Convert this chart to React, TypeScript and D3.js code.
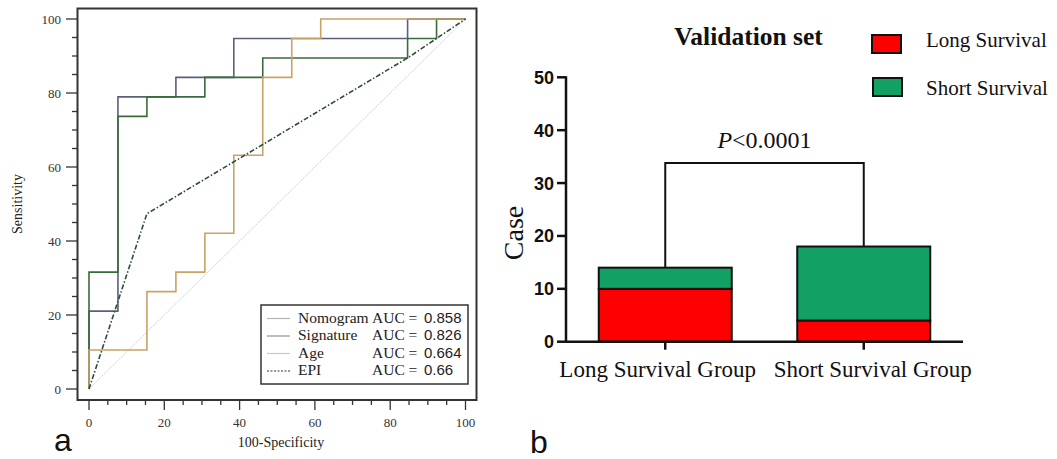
import React from "react";
import * as d3 from "d3";

// ---------- Panel a: ROC data (100-Specificity, Sensitivity) ----------
const rocNomogram: [number, number][] = [
  [0, 0], [0, 21.05], [7.69, 21.05], [7.69, 78.95], [23.08, 78.95], [23.08, 84.21],
  [38.46, 84.21], [38.46, 94.74], [84.62, 94.74], [84.62, 100], [100, 100],
];
const rocSignature: [number, number][] = [
  [0, 0], [0, 31.58], [7.69, 31.58], [7.69, 73.68], [15.38, 73.68], [15.38, 78.95],
  [30.77, 78.95], [30.77, 84.21], [46.15, 84.21], [46.15, 89.47], [84.62, 89.47],
  [84.62, 94.74], [92.31, 94.74], [92.31, 100], [100, 100],
];
const rocAge: [number, number][] = [
  [0, 0], [0, 10.53], [15.38, 10.53], [15.38, 26.32], [23.08, 26.32], [23.08, 31.58],
  [30.77, 31.58], [30.77, 42.11], [38.46, 42.11], [38.46, 63.16], [46.15, 63.16],
  [46.15, 84.21], [53.85, 84.21], [53.85, 94.74], [61.54, 94.74], [61.54, 100], [100, 100],
];
const rocEPI: [number, number][] = [
  [0, 0], [15.38, 47.37], [84.62, 89.47], [92.31, 94.74], [100, 100],
];
const rocDiagonal: [number, number][] = [[0, 0], [100, 100]];
const rocTicks = [0, 20, 40, 60, 80, 100];
const rocMinorTicks = d3.range(0, 101, 5);
const legendNames = ["Nomogram", "Signature", "Age", "EPI"];
const legendAUC = ["0.858", "0.826", "0.664", "0.66"];

// ---------- Panel b: stacked bars ----------
const groups = ["Long Survival Group", "Short Survival Group"];
const longSurvival = [10, 4];
const shortSurvival = [4, 14];
const caseTicks = [0, 10, 20, 30, 40, 50];
const bracketLevel = 33.8;
const pText = "<0.0001";

const SERIF = "'Liberation Serif', 'Times New Roman', serif";
const SANS = "'Liberation Sans', Arial, sans-serif";

export default function App() {
  // panel a scales
  const x = d3.scaleLinear().domain([0, 100]).range([89, 465.5]);
  const y = d3.scaleLinear().domain([0, 100]).range([389, 19]);
  const line = d3.line<[number, number]>().x((d) => x(d[0])).y((d) => y(d[1]));

  const curves = [
    { data: rocNomogram, color: "#5c5f7c", dash: undefined, w: 1.6 },
    { data: rocSignature, color: "#3b6b3b", dash: undefined, w: 1.6 },
    { data: rocAge, color: "#c9a266", dash: undefined, w: 1.6 },
    { data: rocEPI, color: "#2f4d36", dash: "5,2,1.5,2", w: 1.6 },
  ];
  const legendSample = [
    { color: "#b4b4b4", dash: undefined },
    { color: "#8c968c", dash: undefined },
    { color: "#d9c9a3", dash: undefined },
    { color: "#333", dash: "2,1.5" },
  ];

  // panel b scales
  const xb = d3.scaleBand<string>().domain(groups).range([566, 963]).paddingInner(0.33).paddingOuter(0.165);
  const yb = d3.scaleLinear().domain([0, 50]).range([341.7, 77.3]);
  const stackData = groups.map((g, i) => ({ group: g, long: longSurvival[i], short: shortSurvival[i] }));
  const stack = d3.stack<any>().keys(["long", "short"])(stackData);
  const fills: Record<string, string> = { long: "#ff0000", short: "#13a065" };
  const totals = groups.map((_, i) => longSurvival[i] + shortSurvival[i]);
  const cx = (g: string) => (xb(g) as number) + xb.bandwidth() / 2;
  const labelShift = [-7.5, 9];

  return (
    <svg width={1057} height={459} style={{ position: "absolute", left: 0, top: 0, background: "#fff" }}>
      <rect x={0} y={0} width={1057} height={459} fill="#fff" />
      {/* ===== Panel a ===== */}
      <rect x={77.5} y={8.5} width={399} height={391.5} fill="none" stroke="#333" strokeWidth={2} />
      {rocMinorTicks.map((t) => (
        <line key={"ym" + t} x1={rocTicks.includes(t) ? 66 : 72} x2={77.5} y1={y(t)} y2={y(t)} stroke="#333" strokeWidth={1.3} />
      ))}
      {rocTicks.map((t) => (
        <text key={"yl" + t} x={61} y={y(t)} dy="0.35em" textAnchor="end" fontFamily={SERIF} fontSize={13} fill="#333">{t}</text>
      ))}
      {rocMinorTicks.map((t) => (
        <line key={"xm" + t} x1={x(t)} x2={x(t)} y1={400} y2={rocTicks.includes(t) ? 410 : 405} stroke="#333" strokeWidth={1.3} />
      ))}
      {rocTicks.map((t) => (
        <text key={"xl" + t} x={x(t)} y={427} textAnchor="middle" fontFamily={SERIF} fontSize={13} fill="#333">{t}</text>
      ))}
      <text x={281} y={447} textAnchor="middle" fontFamily={SERIF} fontSize={14} fill="#222">100-Specificity</text>
      <text transform={`translate(22,${(y(0) + y(100)) / 2}) rotate(-90)`} textAnchor="middle" fontFamily={SERIF} fontSize={14} fill="#222">Sensitivity</text>
      <path d={line(rocDiagonal) || ""} fill="none" stroke="#d9cccc" strokeWidth={1} strokeDasharray="2,1" />
      {curves.map((c, i) => (
        <path key={"c" + i} d={line(c.data) || ""} fill="none" stroke={c.color} strokeWidth={c.w} strokeDasharray={c.dash} />
      ))}
      <rect x={261} y={305} width={207} height={79} fill="#fff" stroke="#333" strokeWidth={1.5} />
      {legendNames.map((n, i) => {
        const by = 322.5 + i * 17.5;
        return (
          <g key={"lg" + i}>
            <line x1={267} x2={290} y1={by - 4} y2={by - 4} stroke={legendSample[i].color} strokeWidth={1.2} strokeDasharray={legendSample[i].dash} />
            <text x={298} y={by} fontFamily={SERIF} fontSize={15.5} fill="#222">{n}</text>
            <text x={372} y={by} fontFamily={SERIF} fontSize={15.5} fill="#222">AUC =</text>
            <text x={424} y={by} fontFamily={SANS} fontSize={15} fill="#222">{legendAUC[i]}</text>
          </g>
        );
      })}
      <text x={54} y={451} fontFamily={SANS} fontSize={32} fill="#111">a</text>

      {/* ===== Panel b ===== */}
      <text x={748.5} y={45} textAnchor="middle" fontFamily={SERIF} fontWeight="bold" fontSize={25.5} fill="#111">Validation set</text>
      <rect x={872} y={35} width={29} height={18} fill="#ff0000" stroke="#111" strokeWidth={2} />
      <text x={926} y={47} fontFamily={SERIF} fontSize={21} fill="#111">Long Survival</text>
      <rect x={873} y={78} width={29} height={18} fill="#13a065" stroke="#111" strokeWidth={2} />
      <text x={926} y={95} fontFamily={SERIF} fontSize={21} fill="#111">Short Survival</text>

      {stack.map((s) =>
        s.map((d, i) => (
          <rect
            key={s.key + i}
            x={xb(groups[i])}
            y={yb(d[1])}
            width={xb.bandwidth()}
            height={yb(d[0]) - yb(d[1])}
            fill={fills[s.key]}
            stroke="#111"
            strokeWidth={2}
          />
        ))
      )}
      <line x1={566} x2={566} y1={yb(50) - 1} y2={yb(0)} stroke="#111" strokeWidth={2.5} />
      <line x1={566} x2={963} y1={yb(0)} y2={yb(0)} stroke="#111" strokeWidth={2.5} />
      {caseTicks.map((t) => (
        <g key={"cb" + t}>
          <line x1={557} x2={566} y1={yb(t)} y2={yb(t)} stroke="#111" strokeWidth={2.5} />
          <text x={554} y={yb(t)} dy="0.36em" textAnchor="end" fontFamily={SANS} fontWeight="bold" fontSize={18} fill="#111">{t}</text>
        </g>
      ))}
      {groups.map((g, i) => (
        <g key={"xg" + g}>
          <line x1={cx(g)} x2={cx(g)} y1={yb(0)} y2={yb(0) + 8} stroke="#111" strokeWidth={2.5} />
          <text x={cx(g) + labelShift[i]} y={377} textAnchor="middle" fontFamily={SERIF} fontSize={23} fill="#111">{g}</text>
        </g>
      ))}
      <text transform={`translate(523,233) rotate(-90)`} textAnchor="middle" fontFamily={SERIF} fontSize={28} fill="#111">Case</text>
      <path
        d={`M${cx(groups[0])},${yb(totals[0])}V${yb(bracketLevel)}H${cx(groups[1])}V${yb(totals[1])}`}
        fill="none"
        stroke="#111"
        strokeWidth={2}
      />
      <text x={(cx(groups[0]) + cx(groups[1])) / 2} y={148} textAnchor="middle" fontFamily={SERIF} fontSize={24} fill="#111">
        <tspan fontStyle="italic">P</tspan>{pText}
      </text>
      <text x={530} y={453} fontFamily={SANS} fontSize={32} fill="#111">b</text>
    </svg>
  );
}
